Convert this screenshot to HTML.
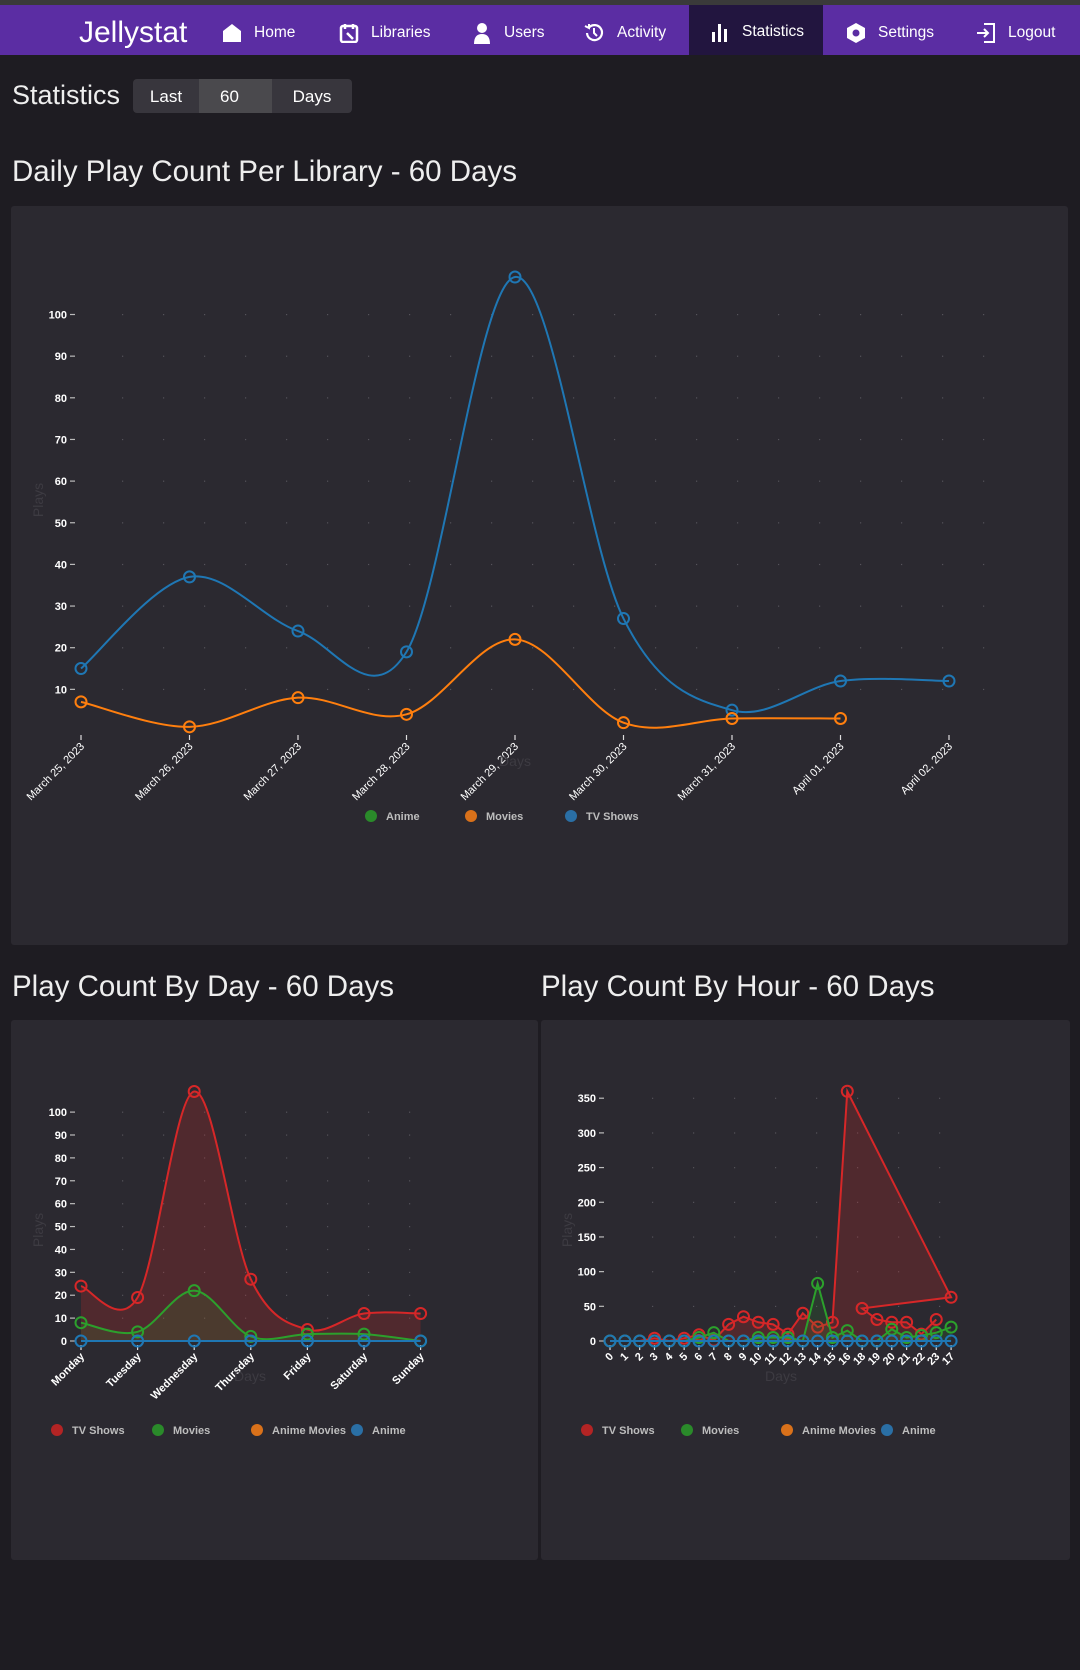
<!DOCTYPE html>
<html><head><meta charset="utf-8">
<style>
*{box-sizing:border-box;margin:0;padding:0}
body{width:1080px;height:1670px;background:#1e1c22;font-family:"Liberation Sans",sans-serif;color:#fff;position:relative;overflow:hidden}
.topstrip{position:absolute;left:0;top:0;width:1080px;height:5px;background:#3a3a3a}
.nav{position:absolute;left:0;top:5px;width:1080px;height:50px;background:#5b2da3}
.logo{position:absolute;left:79px;top:11px;font-size:30px;font-weight:300;color:#fff}
.item{position:absolute;top:3px;height:50px;display:flex;align-items:center;font-size:15.5px;color:#fff}
.item svg{margin-right:12px}
.active{background:#22153f;top:0;padding-top:3px}
.h1{position:absolute;font-size:29.5px;font-weight:300;color:#eee}
.btn{position:absolute;top:79px;height:34px;display:flex;align-items:center;justify-content:center;font-size:17px;background:#38363d;padding-top:2px}
.card{position:absolute;background:#2b2930;border-radius:3px}
svg text{font-family:"Liberation Sans",sans-serif}
</style></head><body>
<div class="topstrip"></div>
<div class="nav">
 <div class="logo">Jellystat</div>
 <div class="item" style="left:222px"><svg width="20" height="20" viewBox="0 0 20 20"><path d="M10 1 L19 8 L19 19 L1 19 L1 8Z" fill="#fff"/></svg>Home</div>
 <div class="item" style="left:339px"><svg width="20" height="20" viewBox="0 0 20 20"><rect x="2" y="3" width="16" height="16" rx="2" fill="none" stroke="#fff" stroke-width="2.5"/><path d="M6 1v5M14 1v5M8 10l6 6" stroke="#fff" stroke-width="2.5"/></svg>Libraries</div>
 <div class="item" style="left:472px"><svg width="20" height="22" viewBox="0 0 20 22"><circle cx="10" cy="6" r="5" fill="#fff"/><path d="M2 22 Q2 12 10 12 Q18 12 18 22Z" fill="#fff"/></svg>Users</div>
 <div class="item" style="left:583px"><svg width="22" height="22" viewBox="0 0 22 22"><path d="M4 11 A7.5 7.5 0 1 0 6 5.5" fill="none" stroke="#fff" stroke-width="2.2"/><path d="M2 4 L6 6 L6 2" fill="none" stroke="#fff" stroke-width="2"/><path d="M11 6v5l3 3" fill="none" stroke="#fff" stroke-width="2"/></svg>Activity</div>
 <div class="item active" style="left:689px;width:134px;padding-left:21px;height:50px"><svg width="20" height="20" viewBox="0 0 20 20"><rect x="2" y="10" width="3" height="10" fill="#fff"/><rect x="8" y="2" width="3" height="18" fill="#fff"/><rect x="14" y="7" width="3" height="13" fill="#fff"/></svg>Statistics</div>
 <div class="item" style="left:846px"><svg width="20" height="22" viewBox="0 0 20 22"><path d="M10 1 L19 6 L19 16 L10 21 L1 16 L1 6Z" fill="#fff"/><circle cx="10" cy="11" r="3.5" fill="#5b2da3"/></svg>Settings</div>
 <div class="item" style="left:976px"><svg width="20" height="22" viewBox="0 0 20 22"><path d="M8 2h10v18H8" fill="none" stroke="#fff" stroke-width="2"/><path d="M1 11h11M8 7l4 4-4 4" fill="none" stroke="#fff" stroke-width="2"/></svg>Logout</div>
</div>
<div class="h1" style="left:12px;top:80px;font-size:27px">Statistics</div>
<div class="btn" style="left:133px;width:66px;border-radius:4px 0 0 4px">Last</div>
<div class="btn" style="left:208px;width:64px;background:#4a494d;justify-content:flex-start;padding-left:12px">60</div>
<div class="btn" style="left:199px;width:9px;background:#4a494d"></div>
<div class="btn" style="left:272px;width:80px;border-radius:0 4px 4px 0">Days</div>
<div class="h1" style="left:12px;top:155px">Daily Play Count Per Library - 60 Days</div>
<div class="h1" style="left:12px;top:970px">Play Count By Day - 60 Days</div>
<div class="h1" style="left:541px;top:970px">Play Count By Hour - 60 Days</div>
<div class="card" style="left:11px;top:206px;width:1057px;height:739px"></div>
<div class="card" style="left:11px;top:1020px;width:527px;height:540px"></div>
<div class="card" style="left:541px;top:1020px;width:529px;height:540px"></div>
<svg id="charts" width="1080" height="1670" style="position:absolute;left:0;top:0"></svg>
<script>
// ---- Chart 1: Daily play count per library ----
const dailyDates = ["March 25, 2023","March 26, 2023","March 27, 2023","March 28, 2023","March 29, 2023","March 30, 2023","March 31, 2023","April 01, 2023","April 02, 2023"];
const dailyTV = [15,37,24,19,109,27,5,12,12];
const dailyMovies = [7,1,8,4,22,2,3,3];
const dailyAnime = [];
const dailyTicks = [10,20,30,40,50,60,70,80,90,100];
// ---- Chart 2: by day of week ----
const weekDays = ["Monday","Tuesday","Wednesday","Thursday","Friday","Saturday","Sunday"];
const weekTV = [24,19,109,27,5,12,12];
const weekMovies = [8,4,22,2,3,3,0];
const weekAnime = [0,0,0,0,0,0,0];
const weekTicks = [0,10,20,30,40,50,60,70,80,90,100];
// ---- Chart 3: by hour ----
const hourCats = [0,1,2,3,4,5,6,7,8,9,10,11,12,13,14,15,16,18,19,20,21,22,23,17];
const hourTVHours = [0,1,2,3,4,5,6,7,8,9,10,11,12,13,14,15,16,17,18,19,20,21,22,23];
const hourTV = [0,0,0,4,0,4,9,1,24,35,27,24,10,40,20,27,360,63,47,31,27,27,10,31];
const hourMoviesHours = [0,1,2,3,4,5,6,7,8,9,10,11,12,13,14,15,16,18,19,20,21,22,23,17];
const hourMovies = [0,0,0,0,0,0,5,12,0,0,5,5,5,0,83,5,15,0,0,17,5,8,12,20];
const hourAnime = [0,0,0,0,0,0,0,0,0,0,0,0,0,0,0,0,0,0,0,0,0,0,0,0];
const hourTicks = [0,50,100,150,200,250,300,350];

const NS="http://www.w3.org/2000/svg";
const root=document.getElementById('charts');
function mk(tag,attrs,parent){const e=document.createElementNS(NS,tag);for(const k in attrs)e.setAttribute(k,attrs[k]);(parent||root).appendChild(e);return e;}
function smooth(pts){if(pts.length<2)return '';let d=`M${pts[0][0]},${pts[0][1]}`;for(let i=0;i<pts.length-1;i++){const p0=pts[i-1]||pts[i],p1=pts[i],p2=pts[i+1],p3=pts[i+2]||p2;const c1=[p1[0]+(p2[0]-p0[0])/6,p1[1]+(p2[1]-p0[1])/6],c2=[p2[0]-(p3[0]-p1[0])/6,p2[1]-(p3[1]-p1[1])/6];d+=` C${c1[0]},${c1[1]} ${c2[0]},${c2[1]} ${p2[0]},${p2[1]}`;}return d;}
function linear(pts){return pts.map((p,i)=>(i?'L':'M')+p[0]+','+p[1]).join(' ');}

function axes(c){
  const g=mk('g',{});
  
  
  for(const t of c.ticks){const y=c.y(t);for(let x=c.gx0;x<c.gx1;x+=c.gstep){const d=mk('rect',{x:x,y:y-0.5,width:1.2,height:1.2,fill:'#55535a'},g);}}
  for(const t of c.ticks){const y=c.y(t);
    const tl=mk('line',{x1:c.x0-11,x2:c.x0-6,y1:y,y2:y,stroke:'#bbb','stroke-width':1.2},g);
    const tx=mk('text',{x:c.x0-14,y:y+4,'text-anchor':'end','font-size':11,'font-weight':'bold',fill:'#fff'},g);tx.textContent=t;}
  c.cats.forEach((cat,i)=>{const x=c.x(i);
    const tl=mk('line',{x1:x,x2:x,y1:c.y0+4,y2:c.y0+9,stroke:'#ddd','stroke-width':1.2},g);
    const tx=mk('text',{x:0,y:0,'text-anchor':'end','font-size':c.xfs,fill:'#fff','font-weight':c.xbold?'bold':'normal',transform:`translate(${x+4},${c.y0+16}) rotate(-45)`},g);tx.textContent=cat;});
  const yt=mk('text',{x:0,y:0,'font-size':14,fill:'#3d3b42','text-anchor':'middle',transform:`translate(${c.ytx},${c.yty}) rotate(-90)`},g);yt.textContent='Plays';
  const xt=mk('text',{x:c.xtx,y:c.xty,'font-size':14,fill:'#3d3b42','text-anchor':'middle'},g);xt.textContent='Days';
}
function series(c,name,idx,vals,color,fill,curve){
  const pts=vals.map((v,i)=>[c.x(idx[i]),c.y(v)]);
  if(!pts.length)return;
  const d=curve(pts);
  if(fill){const a=mk('path',{d:d+` L${pts[pts.length-1][0]},${c.y0} L${pts[0][0]},${c.y0} Z`,fill:fill,stroke:'none'});}
  const l=mk('path',{d:d,fill:'none',stroke:color,'stroke-width':2});
  
  
  pts.forEach(p=>{const m=mk('circle',{cx:p[0],cy:p[1],r:5.5,fill:'none',stroke:color,'stroke-width':2});
    
    });
}
function legend(items,y){
  items.forEach(it=>{const g=mk('g',{});
    
    
    mk('circle',{cx:it[2],cy:y,r:6,fill:it[1]},g);
    const t=mk('text',{x:it[2]+15,y:y+4,'font-size':11,'font-weight':'bold',fill:'#bdbdbd'},g);t.textContent=it[0];});
}
const idx=a=>a.map((_,i)=>i);

const c1={name:'daily',cats:dailyDates,ticks:dailyTicks,x0:81,y0:731,x:i=>81+i*108.5,y:v=>731-v*4.165,gx0:122,gx1:1000,gstep:41,xfs:11,xbold:false,ytx:43,yty:500,xtx:515,xty:766};
axes(c1);
series(c1,'tv-shows',idx(dailyTV),dailyTV,'#1f77b4',null,smooth);
series(c1,'movies',idx(dailyMovies),dailyMovies,'#ff7f0e',null,smooth);
series(c1,'anime',idx(dailyAnime),dailyAnime,'#2ca02c',null,smooth);
legend([['Anime','#2a8a2a',371],['Movies','#d9711a',471],['TV Shows','#2a6fa5',571]],816);

const c2={name:'by-day',cats:weekDays,ticks:weekTicks,x0:81,y0:1341,x:i=>81+i*56.6,y:v=>1341-v*2.289,gx0:122,gx1:425,gstep:41,xfs:11,xbold:true,ytx:43,yty:1230,xtx:250,xty:1381};
axes(c2);
series(c2,'tv-shows',idx(weekTV),weekTV,'#d62728','rgba(214,39,40,0.22)',smooth);
series(c2,'movies',idx(weekMovies),weekMovies,'#2ca02c','rgba(44,160,44,0.15)',smooth);
series(c2,'anime',idx(weekAnime),weekAnime,'#1f77b4',null,smooth);
legend([['TV Shows','#b32424',57],['Movies','#2a8a2a',158],['Anime Movies','#d9711a',257],['Anime','#2a6fa5',357]],1430);

const c3={name:'by-hour',cats:hourCats,ticks:hourTicks,x0:610,y0:1341,x:i=>610+i*14.83,y:v=>1341-v*0.6937,gx0:652,gx1:955,gstep:41,xfs:11,xbold:true,ytx:572,yty:1230,xtx:781,xty:1381};
axes(c3);
const pos=h=>hourCats.indexOf(h);
series(c3,'tv-shows',hourTVHours.map(pos),hourTV,'#d62728','rgba(214,39,40,0.22)',linear);
series(c3,'movies',hourMoviesHours.map(pos),hourMovies,'#2ca02c','rgba(44,160,44,0.15)',linear);
series(c3,'anime',idx(hourAnime),hourAnime,'#1f77b4',null,linear);
legend([['TV Shows','#b32424',587],['Movies','#2a8a2a',687],['Anime Movies','#d9711a',787],['Anime','#2a6fa5',887]],1430);
</script>
</body></html>
